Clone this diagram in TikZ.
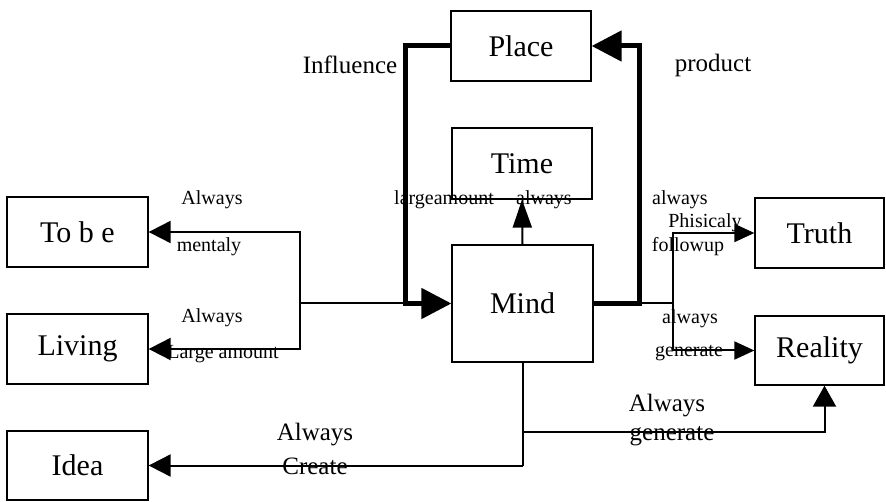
\documentclass[tikz,border=0pt]{standalone}
\usepackage{fontspec}
\setmainfont{Liberation Serif}
\usetikzlibrary{arrows.meta,calc}
\tikzset{
  box/.style={draw, line width=1.3pt, inner sep=0pt, font=\fontsize{30}{36}\selectfont},
  lab/.style={inner sep=0pt, font=\fontsize{20}{24}\selectfont},
  labbig/.style={inner sep=0pt, font=\fontsize{25}{30}\selectfont},
  conn/.style={line width=2pt},
  thickconn/.style={line width=5pt},
  tip/.style={-{Triangle[length=22pt,width=22pt]}},
  tipsmall/.style={-{Triangle[length=20pt,width=18pt]}},
  tiptime/.style={-{Triangle[length=28pt,width=19pt]}},
  tipbig/.style={-{Triangle[length=30pt,width=30pt]}},
}
\begin{document}
\begin{tikzpicture}[x=1pt,y=-1pt]
\useasboundingbox (0,0) rectangle (886,502);
% boxes
\node[box, minimum width=141pt, minimum height=70pt] (tobe) at (77.5,232) {To b e};
\node[box, minimum width=141pt, minimum height=70pt] (living) at (77.5,349) {Living};
\node[box, minimum width=141pt, minimum height=69pt] (idea) at (77.5,465.5) {Idea};
\node[box, minimum width=140pt, minimum height=70pt] (place) at (521,46) {Place};
\node[box, minimum width=140pt, minimum height=71pt] (time) at (522,163.5) {Time};
\node[box, minimum width=141pt, minimum height=117pt] (mind) at (522.5,303.5) {Mind};
\node[box, minimum width=129pt, minimum height=70pt] (truth) at (819.5,233) {Truth};
\node[box, minimum width=129pt, minimum height=69pt] (reality) at (819.5,350.5) {Reality};
% junctions
\coordinate (lf) at (300,303.5);
\coordinate (lj) at (405,303.5);
\coordinate (rj) at (639,303.5);
\coordinate (rf) at (673,303.5);
\coordinate (bj) at (522.5,432);
\coordinate (bc) at (522.5,465.5);
% left side
\draw[conn] (lf) -- (lj);
\draw[conn, tip] (lf) |- (tobe.east);
\draw[conn, tip] (lf) |- (living.east);
\draw[thickconn, tipbig] (place.west) -| (lj) -- (mind.west);
% right side
\draw[thickconn, tipbig] (mind.east) -- (rj) |- (place.east);
\draw[conn] (rj) -- (rf);
\draw[conn, tipsmall] (rf) |- (truth.west);
\draw[conn, tipsmall] (rf) |- (reality.west);
% time
\draw[conn, tiptime] (mind.north) -- (time.south);
% bottom
\draw[conn] (mind.south) -- (bc);
\draw[conn, tip] (bc) -- (idea.east);
\draw[conn, -{Triangle[length=21pt,width=23pt]}] (bj) -| ($(reality.south)+(5,0)$);
% labels
\node[lab] (l1) at (212,200) {Always};
\node[lab] (l2) at (209,247) {mentaly};
\node[lab] (l3) at (212,318) {Always};
\node[lab] (l4) at (223,354) {Large amount};
\node[labbig] (l5) at (350,65) {Influence};
\node[labbig] (l6) at (713,65) {product};
\node[lab] (l7) at (444,200) {largeamount};
\node[lab] (l8) at (544,200) {always};
\node[lab] (l9) at (680,200) {always};
\node[lab] (l10) at (705,223) {Phisicaly};
\node[lab] (l11) at (688,247) {followup};
\node[lab] (l12) at (690,319) {always};
\node[lab] (l13) at (689,353) {generate};
\node[labbig] (l14) at (667,406) {Always};
\node[labbig] (l15) at (672,436) {generate};
\node[labbig] (l16) at (315,435) {Always};
\node[labbig] (l17) at (315,466) {Create};
\end{tikzpicture}
\end{document}
